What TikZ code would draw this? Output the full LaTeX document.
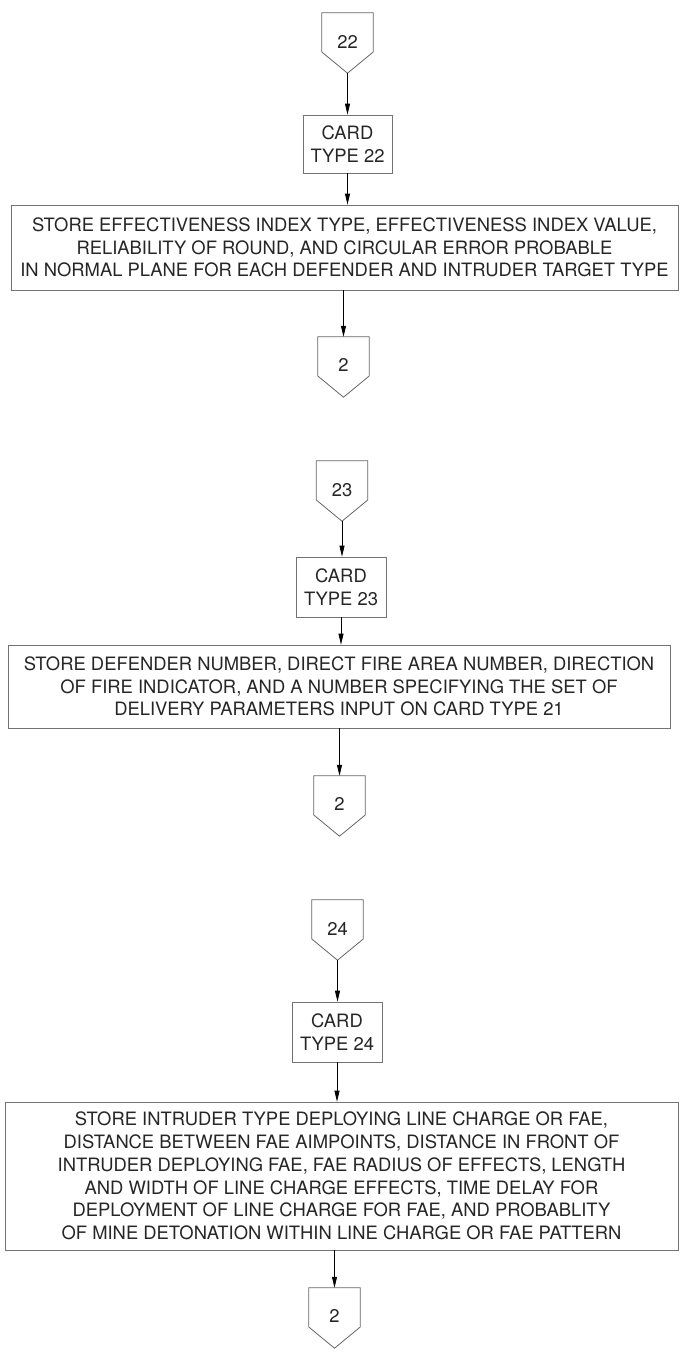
\documentclass[tikz,border=0pt]{standalone}
\usepackage{fontspec}
\setmainfont{TeX Gyre Heros}
\usetikzlibrary{arrows.meta}
\newcommand{\pent}[1]{\draw[connline] (#1.north west) -- (#1.north east) -- ([yshift=-9pt]#1.east) -- (#1.south) -- ([yshift=-9pt]#1.west) -- cycle;}
\begin{document}
\begin{tikzpicture}[x=1pt,y=-1pt,
  every node/.style={font=\fontsize{18.4}{22.7}\selectfont, text=black!85},
  box/.style={draw=black!55, line width=0.7pt, inner sep=0pt, align=center},
  conn/.style={inner sep=0pt, minimum width=51pt, minimum height=60pt},
  arr/.style={draw=black, line width=0.8pt, -{Triangle[length=11pt,width=5pt]}},
  connline/.style={draw=black!60, line width=0.8pt, line join=miter}]
\useasboundingbox (0,0) rectangle (680,1352);
\fill[white] (0,0) rectangle (680,1352);

% section 22
\node[conn] (c22) at (347.5,43) {\raisebox{3pt}{22}};
\pent{c22}
\node[box, minimum width=89pt, minimum height=58pt] (card22) at (347.5,144) {CARD\\TYPE 22};
\node[box, minimum width=667pt, minimum height=85pt] (box1) at (344.5,247.5)
  {STORE EFFECTIVENESS INDEX TYPE, EFFECTIVENESS INDEX VALUE,\\
   RELIABILITY OF ROUND, AND CIRCULAR ERROR PROBABLE\\
   IN NORMAL PLANE FOR EACH DEFENDER AND INTRUDER TARGET TYPE};
\node[conn] (c2a) at (343.5,367) {\raisebox{4pt}{2}};
\pent{c2a}
\draw[arr] (c22.south) -- (c22.south |- card22.north);
\draw[arr] (card22.south) -- (card22.south |- box1.north);
\draw[arr] (c2a.north |- box1.south) -- (c2a.north);

% section 23
\node[conn] (c23) at (342,491) {\raisebox{3pt}{23}};
\pent{c23}
\node[box, minimum width=90pt, minimum height=60pt] (card23) at (341,587) {CARD\\TYPE 23};
\node[box, minimum width=662pt, minimum height=83pt] (box2) at (339,686.5)
  {STORE DEFENDER NUMBER, DIRECT FIRE AREA NUMBER, DIRECTION\\
   OF FIRE INDICATOR, AND A NUMBER SPECIFYING THE SET OF\\
   DELIVERY PARAMETERS INPUT ON CARD TYPE 21};
\node[conn] (c2b) at (339.5,806) {\raisebox{4pt}{2}};
\pent{c2b}
\draw[arr] (c23.south) -- (c23.south |- card23.north);
\draw[arr] (card23.south) -- (card23.south |- box2.north);
\draw[arr] (c2b.north |- box2.south) -- (c2b.north);

% section 24
\node[conn] (c24) at (337.5,930) {\raisebox{3pt}{24}};
\pent{c24}
\node[box, minimum width=90pt, minimum height=60pt] (card24) at (337,1032) {CARD\\TYPE 24};
\node[box, minimum width=673pt, minimum height=148pt] (box3) at (341.5,1176)
  {STORE INTRUDER TYPE DEPLOYING LINE CHARGE OR FAE,\\
   DISTANCE BETWEEN FAE AIMPOINTS, DISTANCE IN FRONT OF\\
   INTRUDER DEPLOYING FAE, FAE RADIUS OF EFFECTS, LENGTH\\
   AND WIDTH OF LINE CHARGE EFFECTS, TIME DELAY FOR\\
   DEPLOYMENT OF LINE CHARGE FOR FAE, AND PROBABLITY\\
   OF MINE DETONATION WITHIN LINE CHARGE OR FAE PATTERN};
\node[conn] (c2c) at (334.5,1318) {\raisebox{4pt}{2}};
\pent{c2c}
\draw[arr] (c24.south) -- (c24.south |- card24.north);
\draw[arr] (card24.south) -- (card24.south |- box3.north);
\draw[arr] (c2c.north |- box3.south) -- (c2c.north);
\end{tikzpicture}
\end{document}
